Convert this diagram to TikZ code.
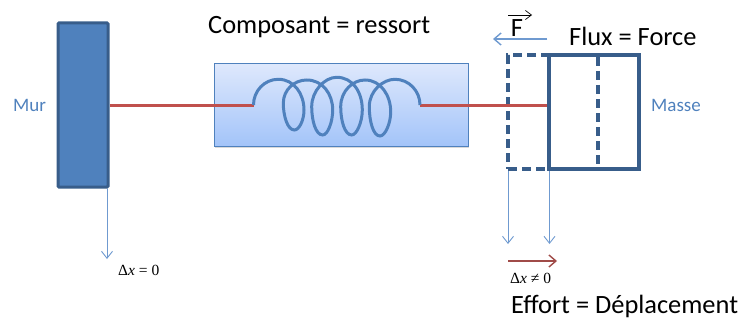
\documentclass[tikz,border=0pt]{standalone}
\usepackage{fontspec}
\setmainfont{Carlito}
\newfontfamily\mathlabelfont{Liberation Serif}
\usetikzlibrary{arrows.meta,positioning,shadows}
\definecolor{wallblue}{HTML}{4F81BD}
\definecolor{edgeblue}{HTML}{385D8A}
\definecolor{linkred}{HTML}{C0504D}
\definecolor{thinblue}{HTML}{6F9AD0}
\definecolor{darkred}{HTML}{A04B48}
\definecolor{boxtop}{HTML}{DEE8FC}
\definecolor{boxbot}{HTML}{A3C4F9}
\tikzset{
  wallbox/.style={draw=edgeblue, line width=3pt, fill=wallblue, rounded corners=1pt, minimum width=50pt, minimum height=164pt, inner sep=0pt},
  springbox/.style={draw=wallblue, line width=1pt, top color=boxtop, bottom color=boxbot, minimum width=254pt, minimum height=82pt, inner sep=0pt, drop shadow={opacity=0.3, shadow xshift=1pt, shadow yshift=-1.5pt}},
  massbox/.style={draw=edgeblue, line width=3.5pt, minimum width=90pt, minimum height=114pt, inner sep=0pt},
  ghostbox/.style={massbox, dash pattern=on 9pt off 5pt, minimum width=41pt},
  link/.style={draw=linkred, line width=3pt},
  coil/.style={draw=wallblue, line width=3pt},
  thinarrow/.style={-{Straight Barb[length=7pt,width=11pt]}, draw=thinblue, line width=0.9pt},
  forcearrow/.style={-{Straight Barb[length=7pt,width=12pt]}, draw=thinblue, line width=1.4pt},
  movearrow/.style={-{Straight Barb[length=7pt,width=12pt]}, draw=darkred, line width=1.4pt},
  vecarrow/.style={-{Straight Barb[length=6pt,width=9pt]}, draw=black, line width=0.7pt},
  title/.style={font=\fontsize{26.4}{30}\selectfont, inner sep=0pt},
  side/.style={font=\fontsize{19}{22}\selectfont, text=wallblue, inner sep=0pt},
  delta/.style={font=\mathlabelfont\fontsize{15.5}{18}\selectfont, inner sep=0pt}
}
\begin{document}
\begin{tikzpicture}[x=1pt,y=-1pt]
  \useasboundingbox (0,0) rectangle (739,321);
  \node[springbox] (spring) at (341,105) {};
  \node[wallbox] (wall) at (83,105) {};
  \node[ghostbox] (ghost) at (528.5,112) {};
  \node[massbox] (mass) at (594,112) {};
  \coordinate (coilin) at (253.5,105);
  \coordinate (coilout) at (420,105);
  \coordinate (midtop) at (598,57);
  \coordinate (midbot) at (598,168);
  \coordinate (wallend) at (107,259);
  \coordinate (ghostend) at (508,244);
  \coordinate (massend) at (549.5,244);
  \coordinate (movestart) at (508,261);
  \coordinate (moveend) at (557,261);
  \coordinate (forceend) at (493,39);
  \coordinate (vecstart) at (508,15);
  \coordinate (vecend) at (532,15);
  \node[side,anchor=west] (murlabel) at (13,105) {Mur};
  \node[side,anchor=west] (masselabel) at (651,105) {Masse};
  \node[title,anchor=west] (complabel) at (208,27) {Composant = ressort};
  \node[title,anchor=west] (fluxlabel) at (569,36) {Flux = Force};
  \node[title,anchor=west] (effortlabel) at (511,306) {Effort = Déplacement};
  \node[title] (flabel) at (517,28) {F};
  \node[delta,anchor=west] (zerolabel) at (118,270) {Δ\textit{x} = 0};
  \node[delta,anchor=west] (nonzerolabel) at (510,278) {Δ\textit{x} ≠ 0};
  \draw[link] (wall.east |- coilin) -- (coilin);
  \draw[link] (coilout) -- (coilout -| mass.west);
  \draw[coil] (coilin) .. controls +(0,-14) and +(-14,0) .. (278.3,79.3)
    .. controls +(16,0) and +(0,-16) .. (304,110)
    .. controls +(0,10) and +(5,0) .. (294.3,130)
    .. controls +(-7,0) and +(0,12) .. (283.3,103.3)
    .. controls +(0,-14) and +(-12,0) .. (306.7,80)
    .. controls +(16,0) and +(0,-16) .. (332.7,110)
    .. controls +(0,12) and +(5,0) .. (322.7,135)
    .. controls +(-7,0) and +(0,14) .. (311.7,106.7)
    .. controls +(0,-16) and +(-12,0) .. (336.7,77.3)
    .. controls +(16,0) and +(0,-18) .. (362.3,110)
    .. controls +(0,12) and +(5,0) .. (351.7,135)
    .. controls +(-7,0) and +(0,14) .. (340.7,106.7)
    .. controls +(0,-16) and +(-12,0) .. (365,80)
    .. controls +(16,0) and +(0,-16) .. (390.7,111.7)
    .. controls +(0,12) and +(5,0) .. (380,136)
    .. controls +(-7,0) and +(0,14) .. (369.3,106.7)
    .. controls +(0,-16) and +(-12,0) .. (395,79.3)
    .. controls +(14,0) and +(0,-14) .. (coilout);
  \draw[thinarrow] (wall.south -| wallend) -- (wallend);
  \draw[thinarrow] (ghost.south -| ghostend) -- (ghostend);
  \draw[thinarrow] (mass.south -| massend) -- (massend);
  \draw[movearrow] (movestart) -- (moveend);
  \draw[forcearrow] (mass.north west |- forceend) -- (forceend);
  \draw[vecarrow] (vecstart) -- (vecend);
  \draw[edgeblue, line width=3.5pt, dash pattern=on 9pt off 5pt] (midtop) -- (midbot);
\end{tikzpicture}
\end{document}
